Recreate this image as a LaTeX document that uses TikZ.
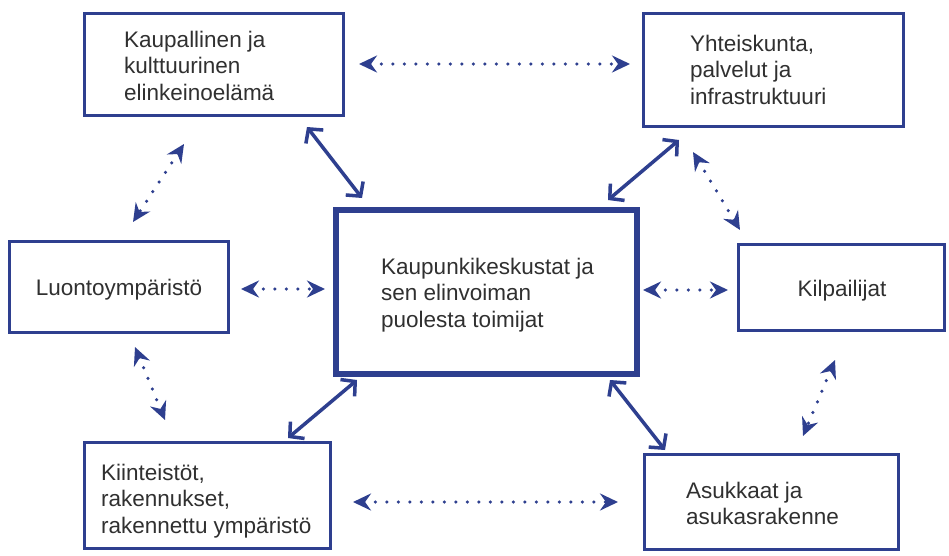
\documentclass[tikz,border=0pt]{standalone}
\usepackage{fontspec}
\setmainfont{Liberation Sans}
\usetikzlibrary{arrows.meta}
\definecolor{dblue}{HTML}{2E3F8F}
\definecolor{tgrey}{HTML}{303030}
\newcommand{\mylines}[1]{\vtop{\halign{##\hfil\cr#1\crcr}}}
\begin{document}
\begin{tikzpicture}[x=1pt,y=-1pt,
  box/.style={draw=dblue, line width=3pt, inner sep=0pt},
  mainbox/.style={box, line width=6pt},
  txt/.style={text=tgrey, font=\fontsize{22.5}{26.5}\selectfont, inner sep=0pt},
  solidarr/.style={draw=dblue, line width=3.5pt,
    {Straight Barb[length=10pt,width=22pt]}-{Straight Barb[length=10pt,width=22pt]}},
  dotarr/.style={draw=dblue, line width=3.5pt, line cap=round, dash pattern=on 0pt off 11.5pt,
    {Stealth[length=18pt,width=17pt,inset=6pt]}-{Stealth[length=18pt,width=17pt,inset=6pt]}}
]
\useasboundingbox (0,0) rectangle (949,555);
\fill[white] (0,0) rectangle (949,555);

% boxes
\node[box, minimum width=259pt, minimum height=102pt] (b1) at (214,64.5) {};
\node[box, minimum width=260pt, minimum height=113pt] (b2) at (773.5,70) {};
\node[box, minimum width=219pt, minimum height=91pt] (b3) at (119,287) {};
\node[mainbox, minimum width=301pt, minimum height=164pt] (c) at (486.5,292) {};
\node[box, minimum width=206pt, minimum height=86pt] (b4) at (841.5,287.5) {};
\node[box, minimum width=246pt, minimum height=106pt] (b5) at (207.5,495.5) {};
\node[box, minimum width=254pt, minimum height=95pt] (b6) at (771.5,502) {};

% texts
\node[txt, anchor=base west] (t1) at (124,47) {\mylines{Kaupallinen ja\cr kulttuurinen\cr elinkeinoelämä}};
\node[txt, anchor=base west] (t2) at (690,51) {\mylines{Yhteiskunta,\cr palvelut ja\cr infrastruktuuri}};
\node[txt, anchor=base] (t3) at (119,295) {Luontoympäristö};
\node[txt, anchor=base west] (tc) at (381,274) {\mylines{Kaupunkikeskustat ja\cr sen elinvoiman\cr puolesta toimijat}};
\node[txt, anchor=base] (t4) at (842,296) {Kilpailijat};
\node[txt, anchor=base west] (t5) at (101,480) {\mylines{Kiinteistöt,\cr rakennukset,\cr rakennettu ympäristö}};
\node[txt, anchor=base west] (t6) at (686,498) {\mylines{Asukkaat ja\cr asukasrakenne}};

% arrow end points
\coordinate (a1s) at (359,64);  \coordinate (a1e) at (630,64);
\coordinate (a2s) at (307,127); \coordinate (a2e) at (362,198);
\coordinate (a3s) at (679,140); \coordinate (a3e) at (608,200);
\coordinate (a4s) at (184,144); \coordinate (a4e) at (133,222);
\coordinate (a5s) at (693,152); \coordinate (a5e) at (740,230);
\coordinate (a6s) at (241,289); \coordinate (a6e) at (325,289);
\coordinate (a7s) at (643,290); \coordinate (a7e) at (728,290);
\coordinate (a8s) at (135,347); \coordinate (a8e) at (165,420);
\coordinate (a9s) at (357,380); \coordinate (a9e) at (288,438);
\coordinate (a10s) at (610,380); \coordinate (a10e) at (665,450);
\coordinate (a11s) at (353,502); \coordinate (a11e) at (618,502);
\coordinate (a12s) at (835,360); \coordinate (a12e) at (803,436);

% connectors
\draw[dotarr] (a1s) -- (a1e);
\draw[solidarr] (a2s) -- (a2e);
\draw[solidarr] (a3s) -- (a3e);
\draw[dotarr] (a4s) -- (a4e);
\draw[dotarr] (a5s) -- (a5e);
\draw[dotarr] (a6s) -- (a6e);
\draw[dotarr] (a7s) -- (a7e);
\draw[dotarr] (a8s) -- (a8e);
\draw[solidarr] (a9s) -- (a9e);
\draw[solidarr] (a10s) -- (a10e);
\draw[dotarr] (a11s) -- (a11e);
\draw[dotarr] (a12s) -- (a12e);
\end{tikzpicture}
\end{document}
